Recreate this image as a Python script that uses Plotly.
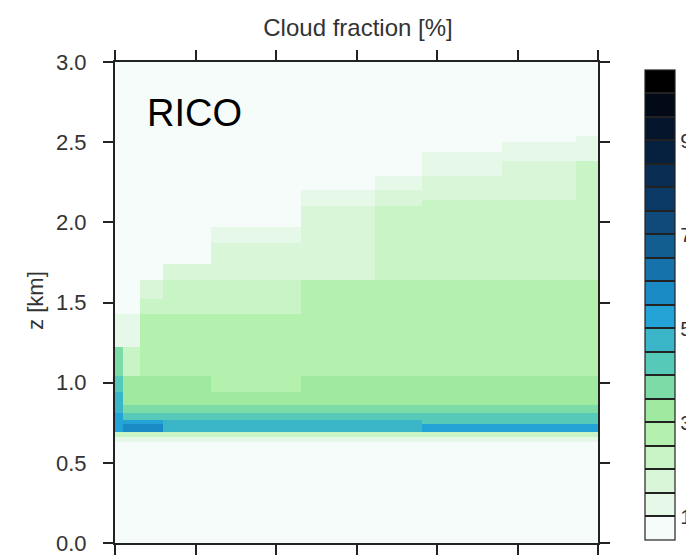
import plotly.graph_objects as go

# ---------------- data ----------------
# time column edges (hours) and height edges (km)
time_edges = [0, 0.4, 1.25, 2.4, 4.75, 6.9, 9.25, 12.9, 15.25, 19.25, 22.9, 24]
height_edges = [0, 0.63, 0.66, 0.69, 0.74, 0.77, 0.81, 0.86, 0.94, 1.04, 1.22,
                1.43, 1.52, 1.64, 1.74, 1.87, 1.97, 2.1, 2.14, 2.2, 2.29, 2.38,
                2.44, 2.5, 2.54, 3.0]

# cloud fraction [%], rows = height layers (bottom -> top), cols = time columns
cloud_fraction = [
    [0,    0,    0,    0,    0,    0,    0,    0,    0,    0,    0   ],  # 0.00-0.63
    [1.25, 1.25, 1.25, 1.25, 1.25, 1.25, 1.25, 1.25, 1.25, 1.25, 1.25],  # 0.63-0.66
    [2.25, 2.25, 2.25, 2.25, 2.25, 2.25, 2.25, 2.25, 2.25, 2.25, 2.25],  # 0.66-0.69
    [5.25, 5.75, 5.75, 4.75, 4.75, 4.75, 4.75, 4.75, 5.25, 5.25, 5.25],  # 0.69-0.74
    [5.25, 5.25, 5.25, 4.75, 4.75, 4.75, 4.75, 4.75, 4.25, 4.25, 4.25],  # 0.74-0.77
    [5.25, 4.25, 4.25, 4.25, 4.25, 4.25, 4.25, 4.25, 4.25, 4.25, 4.25],  # 0.77-0.81
    [4.75, 3.75, 3.75, 3.75, 3.75, 3.75, 3.75, 3.75, 3.75, 3.75, 3.75],  # 0.81-0.86
    [4.75, 3.25, 3.25, 3.25, 3.25, 3.25, 3.25, 3.25, 3.25, 3.25, 3.25],  # 0.86-0.94
    [4.25, 3.25, 3.25, 3.25, 2.75, 2.75, 3.25, 3.25, 3.25, 3.25, 3.25],  # 0.94-1.04
    [3.75, 2.25, 2.75, 2.75, 2.75, 2.75, 2.75, 2.75, 2.75, 2.75, 2.75],  # 1.04-1.22
    [1.25, 1.25, 2.75, 2.75, 2.75, 2.75, 2.75, 2.75, 2.75, 2.75, 2.75],  # 1.22-1.43
    [0,    0,    2.25, 2.25, 2.25, 2.25, 2.75, 2.75, 2.75, 2.75, 2.75],  # 1.43-1.52
    [0,    0,    1.75, 2.25, 2.25, 2.25, 2.75, 2.75, 2.75, 2.75, 2.75],  # 1.52-1.64
    [0,    0,    0,    1.75, 1.75, 1.75, 1.75, 2.25, 2.25, 2.25, 2.25],  # 1.64-1.74
    [0,    0,    0,    0,    1.75, 1.75, 1.75, 2.25, 2.25, 2.25, 2.25],  # 1.74-1.87
    [0,    0,    0,    0,    1.25, 1.25, 1.75, 2.25, 2.25, 2.25, 2.25],  # 1.87-1.97
    [0,    0,    0,    0,    0,    0,    1.75, 2.25, 2.25, 2.25, 2.25],  # 1.97-2.10
    [0,    0,    0,    0,    0,    0,    1.25, 1.75, 2.25, 2.25, 2.25],  # 2.10-2.14
    [0,    0,    0,    0,    0,    0,    1.25, 1.75, 1.75, 1.75, 2.25],  # 2.14-2.20
    [0,    0,    0,    0,    0,    0,    0,    1.25, 1.75, 1.75, 2.25],  # 2.20-2.29
    [0,    0,    0,    0,    0,    0,    0,    0,    1.25, 1.75, 2.25],  # 2.29-2.38
    [0,    0,    0,    0,    0,    0,    0,    0,    1.25, 1.25, 1.25],  # 2.38-2.44
    [0,    0,    0,    0,    0,    0,    0,    0,    0,    1.25, 1.25],  # 2.44-2.50
    [0,    0,    0,    0,    0,    0,    0,    0,    0,    0,    1.25],  # 2.50-2.54
    [0,    0,    0,    0,    0,    0,    0,    0,    0,    0,    0   ],  # 2.54-3.00
]

# contour levels (1 .. 10 by 0.5) and their colours (one per interval, 20 boxes)
levels = [1, 1.5, 2, 2.5, 3, 3.5, 4, 4.5, 5, 5.5, 6, 6.5, 7, 7.5, 8, 8.5, 9, 9.5, 10]
level_colors = ["#f5fcf9", "#e6f9e8", "#d9f7d8", "#c9f5c6", "#b5f1ae", "#a0e9a0",
                "#7ddba8", "#57c9b9", "#3bb6c8", "#24a4d6", "#1a8bc4", "#1672aa",
                "#135e91", "#0f4a7a", "#0c3a66", "#092d53", "#062040", "#04152c",
                "#020a18", "#000000"]
colorbar_labels = ["1", "3", "5", "7", "9"]

y_ticks = [0, 0.5, 1.0, 1.5, 2.0, 2.5, 3.0]
x_ticks = [0, 4, 8, 12, 16, 20, 24]

# ---------------- figure ----------------
step = levels[1] - levels[0]
zmin = levels[0] - step
zmax = levels[-1] + step
n = len(level_colors)
colorscale = []
for i, c in enumerate(level_colors):
    colorscale.append([i / n, c])
    colorscale.append([(i + 1) / n, c])

tick_text = [(str(int(v)) if v == int(v) and str(int(v)) in colorbar_labels else "")
             for v in levels]

FONT = "Liberation Sans, Arial, Helvetica, sans-serif"
TXT = "#333333"

fig = go.Figure()
fig.add_trace(go.Heatmap(
    x=time_edges, y=height_edges, z=cloud_fraction,
    zmin=zmin, zmax=zmax, colorscale=colorscale,
    zsmooth=False, hoverinfo="skip",
    colorbar=dict(
        x=1.097, xanchor="left", xref="paper",
        y=0.495, yanchor="middle", yref="paper",
        len=0.977, lenmode="fraction",
        thickness=30, thicknessmode="pixels",
        outlinecolor="#222", outlinewidth=1.2,
        tickmode="array", tickvals=levels, ticktext=tick_text,
        ticks="inside", ticklen=30, tickwidth=1.5, tickcolor="#222",
        tickfont=dict(family=FONT, size=21, color=TXT),
        ypad=0, xpad=0,
    ),
))

axis_common = dict(
    showline=True, linecolor="#222", linewidth=2, mirror="allticks",
    ticks="outside", ticklen=10, tickwidth=2, tickcolor="#222",
    showgrid=False, zeroline=False,
)
fig.update_xaxes(range=[time_edges[0], time_edges[-1]], tickmode="array",
                 tickvals=x_ticks, showticklabels=False, **axis_common)
fig.update_yaxes(range=[y_ticks[0], y_ticks[-1]], tickmode="array",
                 tickvals=y_ticks, ticktext=[f"{v:.1f}" for v in y_ticks],
                 tickfont=dict(family=FONT, size=22, color=TXT),
                 ticklabelstandoff=12, **axis_common)

fig.add_annotation(text="RICO", x=0.062, y=0.894, xref="paper", yref="paper",
                   xanchor="left", yanchor="middle", showarrow=False,
                   font=dict(family=FONT, size=38, color="#000"))
fig.add_annotation(text="z [km]", x=-0.166, y=0.505, xref="paper", yref="paper",
                   xanchor="center", yanchor="middle", showarrow=False,
                   textangle=-90, font=dict(family=FONT, size=22, color=TXT))

fig.update_layout(
    width=694, height=556,
    margin=dict(l=107, r=104, t=54, b=21, autoexpand=False),
    paper_bgcolor="white", plot_bgcolor="white",
    title=dict(text="Cloud fraction [%]", x=350 / 694, xanchor="center",
               y=(556 - 20) / 556, yanchor="middle", yref="container",
               font=dict(family=FONT, size=24, color=TXT)),
    showlegend=False,
)

fig.write_html("out.html")
